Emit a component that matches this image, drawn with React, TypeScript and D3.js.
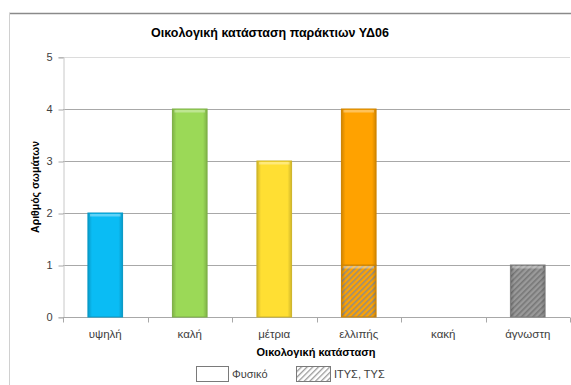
import React, { useEffect, useRef } from 'react';
import * as d3 from 'd3';

const categories = ['υψηλή', 'καλή', 'μέτρια', 'ελλιπής', 'κακή', 'άγνωστη'];
const natural = [2, 4, 3, 3, 0, 0];
const modified = [0, 0, 0, 1, 0, 1];
const barColors = ['#0ABCF4', '#9BD957', '#FFDF33', '#FFA200', '#FF2020', '#9A9A9A'];
const yTicks = [0, 1, 2, 3, 4, 5];
const legendItems = ['Φυσικό', 'ΙΤΥΣ, ΤΥΣ'];

export default function App() {
  const svgRef = useRef<SVGSVGElement | null>(null);

  useEffect(() => {
    const width = 571;
    const height = 385;
    const margin = { top: 57, right: 1, bottom: 68, left: 63 };
    const font = '"Liberation Sans", Arial, sans-serif';

    const svg = d3.select(svgRef.current)
      .attr('width', width)
      .attr('height', height)
      .style('display', 'block')
      .style('position', 'absolute')
      .style('left', '0px')
      .style('top', '0px')
      .style('background', '#fff');

    svg.selectAll('*').remove();

    const defs = svg.append('defs');

    // hatch patterns, one per base colour
    barColors.forEach((c, i) => {
      const p = defs.append('pattern')
        .attr('id', `hatch${i}`)
        .attr('patternUnits', 'userSpaceOnUse')
        .attr('width', 4)
        .attr('height', 4)
        .attr('patternTransform', 'rotate(45)');
      p.append('rect').attr('width', 4).attr('height', 4).attr('fill', c);
      p.append('rect').attr('width', 1.6).attr('height', 4)
        .attr('fill', i === 5 ? '#777777' : '#948e80');
    });
    const lp = defs.append('pattern')
      .attr('id', 'hatchLegend')
      .attr('patternUnits', 'userSpaceOnUse')
      .attr('width', 4)
      .attr('height', 4)
      .attr('patternTransform', 'rotate(45)');
    lp.append('rect').attr('width', 4).attr('height', 4).attr('fill', '#fff');
    lp.append('rect').attr('width', 1.3).attr('height', 4).attr('fill', '#9a9a9a');

    // soft bevel shading across the bar
    const shade = defs.append('linearGradient').attr('id', 'shade');
    shade.append('stop').attr('offset', '0%').attr('stop-color', '#000').attr('stop-opacity', 0.18);
    shade.append('stop').attr('offset', '12%').attr('stop-color', '#000').attr('stop-opacity', 0);
    shade.append('stop').attr('offset', '88%').attr('stop-color', '#000').attr('stop-opacity', 0);
    shade.append('stop').attr('offset', '100%').attr('stop-color', '#000').attr('stop-opacity', 0.18);

    // chart frame
    svg.append('line').attr('x1', 9).attr('x2', width).attr('y1', 13.5).attr('y2', 13.5)
      .attr('stroke', '#8a8a8a').attr('stroke-width', 1.3);
    svg.append('line').attr('x1', 9.5).attr('x2', 9.5).attr('y1', 13).attr('y2', height)
      .attr('stroke', '#d0d0d0');

    const x = d3.scaleBand()
      .domain(categories)
      .range([margin.left, width - margin.right])
      .padding(0);

    const y = d3.scaleLinear()
      .domain([0, 5])
      .range([height - margin.bottom, margin.top]);

    // gridlines
    svg.append('g')
      .selectAll('line')
      .data(yTicks.slice(1))
      .join('line')
      .attr('x1', margin.left)
      .attr('x2', width - margin.right)
      .attr('y1', (d) => Math.round(y(d)) + 0.5)
      .attr('y2', (d) => Math.round(y(d)) + 0.5)
      .attr('stroke', (d) => (d === 5 ? '#dcdcdc' : '#a8a8a8'));

    // y axis
    const yAxis = d3.axisLeft(y).tickValues(yTicks).tickFormat(d3.format('d')).tickSize(5).tickPadding(6);
    const gy = svg.append('g')
      .attr('transform', `translate(${margin.left + 0.5},0)`)
      .call(yAxis);
    gy.select('.domain').attr('stroke', '#c8c8c8');
    gy.selectAll('.tick line').attr('stroke', '#a8a8a8').attr('transform', 'translate(0,0.5)');
    gy.selectAll('text').style('font-family', font).style('font-size', '11px').attr('fill', '#404040');

    // x axis
    const gx = svg.append('g')
      .attr('transform', `translate(0,${Math.round(y(0)) + 0.5})`);
    gx.append('line').attr('x1', margin.left).attr('x2', width - margin.right)
      .attr('stroke', '#a8a8a8');
    gx.selectAll('.tk')
      .data(d3.range(categories.length + 1))
      .join('line')
      .attr('class', 'tk')
      .attr('x1', (i) => Math.round(margin.left + i * x.step()) + 0.5)
      .attr('x2', (i) => Math.round(margin.left + i * x.step()) + 0.5)
      .attr('y1', 0)
      .attr('y2', 5)
      .attr('stroke', '#a8a8a8');
    gx.selectAll('text')
      .data(categories)
      .join('text')
      .attr('x', (d) => x(d)! + x.bandwidth() / 2)
      .attr('y', 20)
      .attr('text-anchor', 'middle')
      .style('font-family', font)
      .style('font-size', '11.5px')
      .attr('fill', '#404040')
      .text((d) => d);

    const barW = x.bandwidth() * 0.41;
    const rows = categories.map((c, i) => ({ c, i, nat: natural[i], mod: modified[i] }));

    const drawBar = (x0: number, y0: number, y1: number, fill: string, stroke: string) => {
      const h = y0 - y1;
      if (h <= 0) return;
      svg.append('rect')
        .attr('x', x0).attr('y', y1).attr('width', barW).attr('height', h)
        .attr('fill', fill);
      svg.append('rect')
        .attr('x', x0).attr('y', y1).attr('width', barW).attr('height', h)
        .attr('fill', 'url(#shade)')
        .attr('stroke', stroke).attr('stroke-width', 1);
      // light bevel at the top
      svg.append('rect')
        .attr('x', x0 + 2).attr('y', y1 + 1).attr('width', barW - 4).attr('height', 2.5)
        .attr('fill', '#fff').attr('opacity', 0.35);
    };

    rows.forEach((r) => {
      const x0 = x(r.c)! + (x.bandwidth() - barW) / 2;
      const stroke = d3.color(barColors[r.i])!.darker(0.6).formatHex();
      drawBar(x0, y(0), y(r.mod), `url(#hatch${r.i})`, stroke);
      drawBar(x0, y(r.mod), y(r.mod + r.nat), barColors[r.i], stroke);
    });

    // title
    svg.append('text')
      .attr('x', 270)
      .attr('y', 37)
      .attr('text-anchor', 'middle')
      .style('font-family', font)
      .style('font-size', '12.5px')
      .style('font-weight', 'bold')
      .attr('fill', '#000')
      .text('Οικολογική κατάσταση παράκτιων ΥΔ06');

    // axis titles
    svg.append('text')
      .attr('transform', `translate(39,${(y(0) + y(5)) / 2}) rotate(-90)`)
      .attr('text-anchor', 'middle')
      .style('font-family', font)
      .style('font-size', '10.5px')
      .style('font-weight', 'bold')
      .attr('fill', '#000')
      .text('Αριθμός σωμάτων');

    svg.append('text')
      .attr('x', 316)
      .attr('y', 356)
      .attr('text-anchor', 'middle')
      .style('font-family', font)
      .style('font-size', '11px')
      .style('font-weight', 'bold')
      .attr('fill', '#000')
      .text('Οικολογική κατάσταση');

    // legend
    const legend = svg.append('g');
    const lx = [196, 296];
    legendItems.forEach((t, i) => {
      legend.append('rect')
        .attr('x', lx[i] + 0.5).attr('y', 366.5).attr('width', i === 0 ? 32 : 34).attr('height', 15)
        .attr('fill', i === 0 ? '#fff' : 'url(#hatchLegend)')
        .attr('stroke', '#7a7a7a');
      legend.append('text')
        .attr('x', lx[i] + (i === 0 ? 36 : 38))
        .attr('y', 378)
        .style('font-family', font)
        .style('font-size', '11px')
        .attr('fill', '#404040')
        .text(t);
    });
  }, []);

  return <svg ref={svgRef}></svg>;
}
